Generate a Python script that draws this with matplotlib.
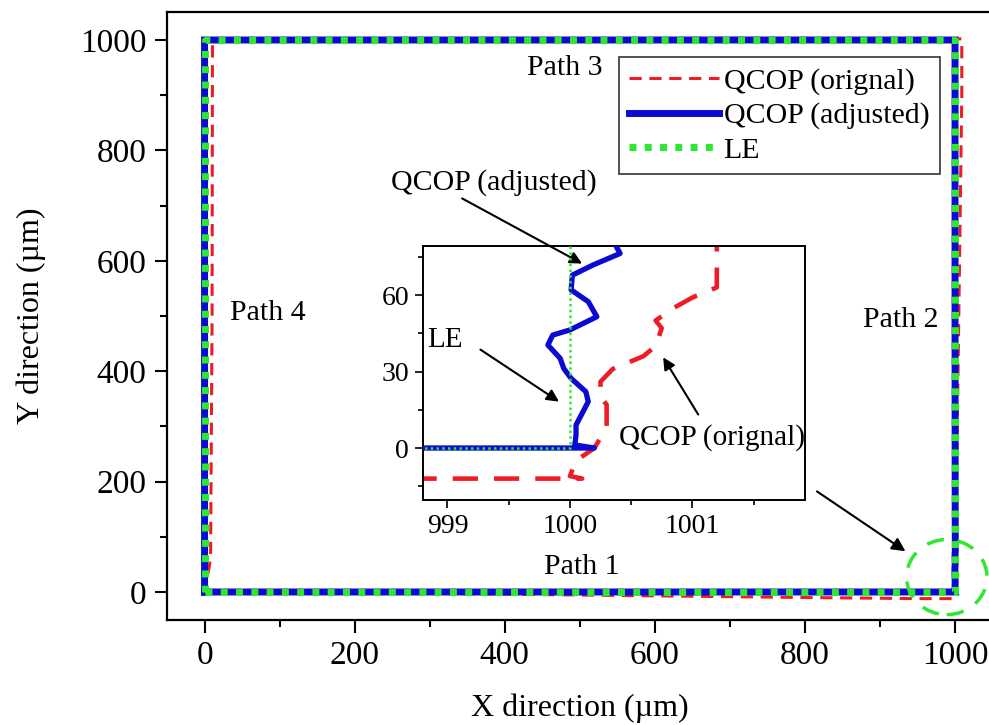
import matplotlib
matplotlib.use("Agg")
import matplotlib.pyplot as plt
import matplotlib.ticker as mtick
from matplotlib.patches import Ellipse

plt.rcParams["font.family"] = ["Liberation Serif", "DejaVu Serif"]

# path of the QCOP (orignal) result (um)
x_orig = [0, 200, 400, 600, 800, 950, 999.0, 1000.1, 1000.0, 1000.05, 1000.2, 1000.3,
          1000.3, 1000.25, 1000.25, 1000.35, 1000.6, 1000.7, 1000.75, 1000.7, 1000.85,
          1001.0, 1001.2, 1001.2, 1001.2, 1003, 1006, 1009, 1009, 700, 400, 10.5, 10, 8, 0]
y_orig = [0, -1, -4, -7, -10, -12, -12, -12, -11, -5, 0, 8,
          17, 20, 26, 31, 36, 40, 47, 50, 55,
          59, 63, 70, 79, 300, 600, 900, 1002, 1003, 1002, 1001, 500, 60, 0]

# QCOP (adjusted)
x_adj = [0, 500, 1000.2, 1000.04, 1000.05, 1000.05, 1000.15, 1000.13, 1000.01, 999.95,
         999.92, 999.82, 999.86, 1000.0, 1000.22, 1000.15, 1000.01, 1000.02, 1000.19,
         1000.41, 1000.38, 1000.2, 1000, 1000, 0, 0]
y_adj = [0, 0, 0, 1.2, 5.1, 9.0, 18.2, 22.1, 27.3, 31.2,
         35.2, 40.4, 44.3, 46.3, 51.5, 57.4, 62.0, 67.8, 71.8,
         76.3, 78.9, 150, 500, 1000, 1000, 0]

# LE reference square
x_le = [0, 1000, 1000, 0, 0]
y_le = [0, 0, 1000, 1000, 0]

c_red = "#ee1c25"
c_blue = "#0a0ad2"
c_green = "#2ee82e"

fig = plt.figure(figsize=(9.89, 7.25), dpi=100)
ax = fig.add_axes([0.1689, 0.1454, 0.8347, 0.8375])

ax.plot(x_orig, y_orig, color=c_red, lw=2.2, dashes=(4, 2.5), label="QCOP (orignal)", zorder=2)
ax.plot(x_adj, y_adj, color=c_blue, lw=5.0, solid_joinstyle="miter", label="QCOP (adjusted)", zorder=3)
ax.plot(x_le, y_le, color=c_green, lw=5.0, dashes=(1, 1.2), label="LE", zorder=4)

ax.add_patch(Ellipse((989, 27), 107, 136, fill=False, ec=c_green, lw=2.5,
                     ls=(0, (5, 4)), clip_on=False, zorder=5))

ax.set_xlim(-50, 1050)
ax.set_ylim(-50, 1050)
ax.xaxis.set_major_locator(mtick.MultipleLocator(200))
ax.xaxis.set_minor_locator(mtick.MultipleLocator(100))
ax.yaxis.set_major_locator(mtick.MultipleLocator(200))
ax.yaxis.set_minor_locator(mtick.MultipleLocator(100))
ax.tick_params(which="both", direction="out", top=False, right=False, width=1.5, labelsize=24)
ax.tick_params(which="major", length=9, pad=6)
ax.tick_params(which="minor", length=5)
for s in ax.spines.values():
    s.set_linewidth(1.6)

ax.set_xlabel("X direction (\u00b5m)", fontsize=23, labelpad=16)
ax.set_ylabel("Y direction (\u00b5m)", fontsize=23, labelpad=24)

for txt, px, py in [("Path 1", 503, 45), ("Path 2", 927, 493),
                    ("Path 3", 480, 949), ("Path 4", 84, 505)]:
    ax.text(px, py, txt, fontsize=21.5, ha="center", va="center", zorder=6)

leg = ax.legend(loc="upper right", bbox_to_anchor=(0.936, 0.9265), borderaxespad=0,
                fontsize=21.5, fancybox=False, framealpha=1, edgecolor="#333333",
                handlelength=3.0, handletextpad=0.15, labelspacing=0.25, borderpad=0.35)
leg.get_frame().set_linewidth(1.2)
leg.set_zorder(7)

ax.annotate("", xy=(937, 71), xytext=(813, 185),
            arrowprops=dict(arrowstyle="-|>", color="k", lw=1.5, mutation_scale=20))

# inset: zoom on the corner of path 1 / path 2
ax_in = fig.add_axes([0.4277, 0.3103, 0.3862, 0.3503])
ax_in.plot(x_orig, y_orig, color=c_red, lw=3.3, dashes=(5.5, 3.5), zorder=2)
ax_in.plot(x_adj, y_adj, color=c_blue, lw=3.8, zorder=3)
ax_in.plot(x_le, y_le, color=c_green, lw=1.8, dashes=(1, 1.3), zorder=4)
ax_in.set_xlim(998.8, 1001.92)
ax_in.set_ylim(-20.4, 79.2)
ax_in.xaxis.set_major_locator(mtick.MultipleLocator(1))
ax_in.xaxis.set_minor_locator(mtick.MultipleLocator(0.5))
ax_in.yaxis.set_major_locator(mtick.MultipleLocator(30))
ax_in.yaxis.set_minor_locator(mtick.MultipleLocator(15))
ax_in.tick_params(which="both", direction="out", top=False, right=False, width=1.2, labelsize=20)
ax_in.tick_params(which="major", length=6, pad=4)
ax_in.tick_params(which="minor", length=3.5)
for s in ax_in.spines.values():
    s.set_linewidth(1.4)

ax_in.text(999.38, 104.3, "QCOP (adjusted)", fontsize=21.5, ha="center", va="center")
ax_in.annotate("", xy=(1000.12, 71.8), xytext=(999.1, 98.4), annotation_clip=False,
               arrowprops=dict(arrowstyle="-|>", color="k", lw=1.5, mutation_scale=18))
ax_in.text(998.98, 42.4, "LE", fontsize=21, ha="center", va="center")
ax_in.annotate("", xy=(999.93, 17.6), xytext=(999.25, 39.2),
               arrowprops=dict(arrowstyle="-|>", color="k", lw=1.5, mutation_scale=18))
ax_in.text(1001.16, 4.3, "QCOP (orignal)", fontsize=21, ha="center", va="center")
ax_in.annotate("", xy=(1000.75, 36.5), xytext=(1001.06, 12.2),
               arrowprops=dict(arrowstyle="-|>", color="k", lw=1.5, mutation_scale=18))

fig.savefig("out.png", dpi=100)
